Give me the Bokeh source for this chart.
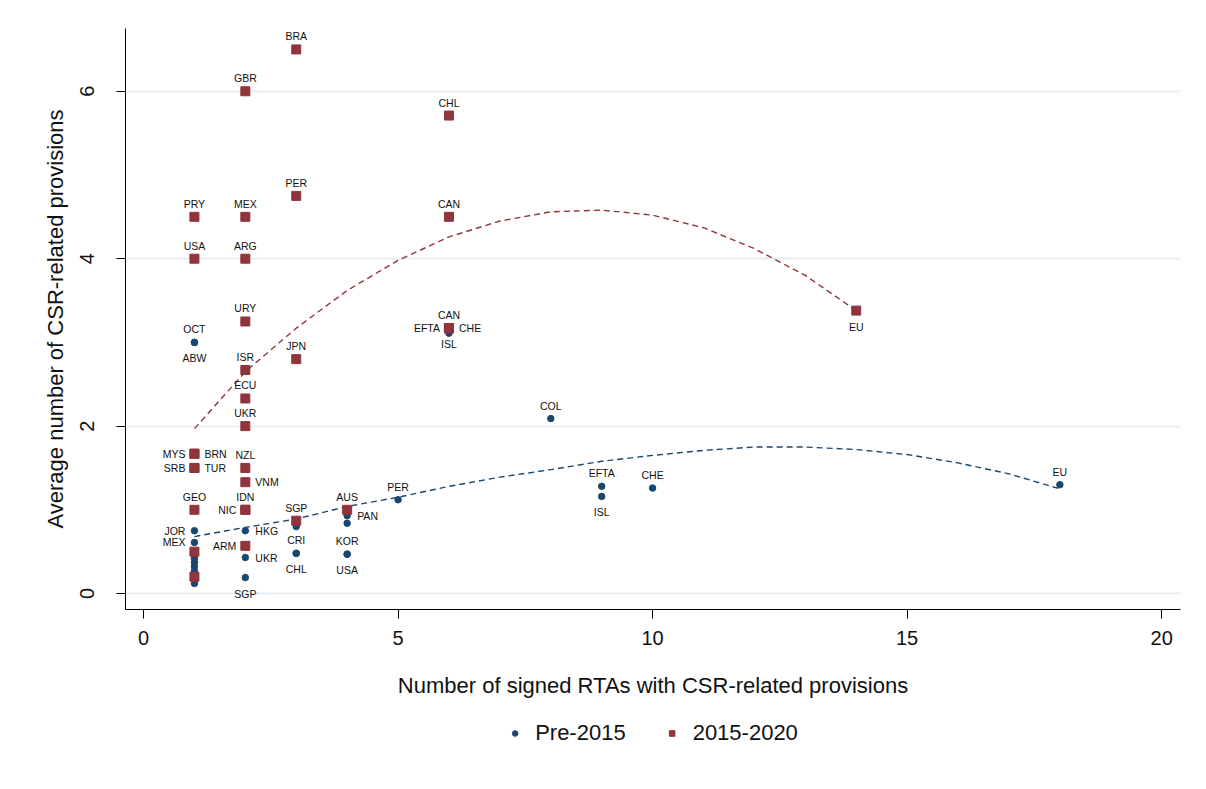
from bokeh.plotting import figure
from bokeh.layouts import column
from bokeh.models import ColumnDataSource, Legend, LegendItem, FixedTicker, Range1d
from bokeh.embed import file_html
from bokeh.resources import INLINE
from bokeh.core.properties import value

# ---------------- data ----------------
# Pre-2015 agreements
pre_x = [1, 1, 1, 1, 1, 1, 1, 1, 1, 1, 2, 2, 2, 3, 3, 3, 4, 4, 4, 4, 5, 6, 8, 9, 9, 10, 18]
pre_y = [3.0, 3.0, 0.75, 0.61, 0.42, 0.37, 0.32, 0.27, 0.22, 0.12,
         0.75, 0.43, 0.19, 0.80, 0.48, 0.48, 0.93, 0.84, 0.47, 0.47,
         1.12, 3.11, 2.09, 1.28, 1.16, 1.26, 1.30]
pre_lab = ["OCT", "ABW", "JOR", "MEX", "", "", "", "", "", "",
           "HKG", "UKR", "SGP", "", "CRI", "CHL", "PAN", "", "KOR", "USA",
           "PER", "", "COL", "EFTA", "ISL", "CHE", "EU"]
pre_pos = [12, 6, 9, 9, 0, 0, 0, 0, 0, 0,
           3, 3, 6, 0, 12, 6, 3, 0, 12, 6,
           12, 0, 12, 12, 6, 12, 12]

# 2015-2020 agreements
post_x = [1, 1, 1, 1, 1, 1, 1, 1, 1,
          2, 2, 2, 2, 2, 2, 2, 2, 2, 2, 2, 2,
          3, 3, 3, 3, 4, 6, 6, 6, 6, 6, 6, 14]
post_y = [4.5, 4.0, 1.67, 1.67, 1.5, 1.5, 1.0, 0.5, 0.2,
          6.0, 4.5, 4.0, 3.25, 2.67, 2.33, 2.0, 1.5, 1.33, 1.0, 1.0, 0.57,
          6.5, 4.75, 2.8, 0.87, 1.0, 5.71, 4.5, 3.17, 3.17, 3.17, 3.17, 3.38]
post_lab = ["PRY", "USA", "MYS", "BRN", "SRB", "TUR", "GEO", "", "",
            "GBR", "MEX", "ARG", "URY", "ISR", "ECU", "UKR", "NZL", "VNM", "IDN", "NIC", "ARM",
            "BRA", "PER", "JPN", "SGP", "AUS", "CHL", "CAN", "CAN", "EFTA", "CHE", "ISL", "EU"]
post_pos = [12, 12, 9, 3, 9, 3, 12, 0, 0,
            12, 12, 12, 12, 12, 12, 12, 12, 3, 12, 9, 9,
            12, 12, 12, 12, 12, 12, 12, 12, 9, 3, 6, 6]

# fitted curves
pre_fit_x = [1, 2, 3, 4, 5, 6, 7, 8, 9, 10, 11, 12, 13, 14, 15, 16, 17, 18]
pre_fit_y = [0.68, 0.79, 0.89, 1.04, 1.15, 1.28, 1.39, 1.48, 1.58, 1.65,
             1.71, 1.75, 1.75, 1.72, 1.66, 1.56, 1.43, 1.25]
post_fit_x = [1, 2, 3, 4, 5, 6, 7, 8, 9, 10, 11, 12, 13, 14]
post_fit_y = [1.97, 2.65, 3.17, 3.62, 3.98, 4.26, 4.45, 4.56, 4.58, 4.52,
              4.37, 4.12, 3.80, 3.38]

x_ticks = [0, 5, 10, 15, 20]
y_ticks = [0, 2, 4, 6]
series_names = ["Pre-2015", "2015-2020"]

# ---------------- style ----------------
BLUE = "#1a476f"
RED = "#90353b"
FONT = "Liberation Sans"
TXT = "#111111"


def label_layout(pos):
    if pos == 12:
        return 0, -13, "center"
    if pos == 6:
        return 0, 16, "center"
    if pos == 3:
        return 10, 0, "left"
    if pos == 9:
        return -9, 0, "right"
    return 0, 0, "center"


def label_source(xs, ys, labs, poss):
    d = dict(x=[], y=[], t=[], xo=[], yo=[], al=[])
    for x, y, t, ps in zip(xs, ys, labs, poss):
        if not t:
            continue
        xo, yo, al = label_layout(ps)
        d["x"].append(x); d["y"].append(y); d["t"].append(t)
        d["xo"].append(xo); d["yo"].append(yo); d["al"].append(al)
    return ColumnDataSource(d)


p = figure(frame_width=1055, frame_height=581, output_backend="svg",
           toolbar_location=None,
           x_range=Range1d(-0.354, 20.37), y_range=Range1d(-0.191, 6.75),
           min_border_left=125, min_border_right=18, min_border_top=28,
           min_border_bottom=100)
p.outline_line_color = None
p.background_fill_color = "white"
p.border_fill_color = "white"

p.xgrid.visible = False
p.ygrid.ticker = FixedTicker(ticks=y_ticks)
p.ygrid.grid_line_color = "#e6eef1"
p.ygrid.grid_line_width = 2

xa = p.xaxis[0]
xa.ticker = FixedTicker(ticks=x_ticks)
xa.axis_label = "Number of signed RTAs with CSR-related provisions"
ya = p.yaxis[0]
ya.ticker = FixedTicker(ticks=y_ticks)
ya.axis_label = "Average number of CSR-related provisions"
ya.major_label_orientation = "vertical"
for ax in (xa, ya):
    ax.axis_line_color = "black"
    ax.axis_line_width = 1
    ax.major_tick_line_color = "black"
    ax.major_tick_out = 9
    ax.major_tick_in = 0
    ax.minor_tick_line_color = None
    ax.major_label_text_font = FONT
    ax.major_label_text_font_size = "20px"
    ax.major_label_text_color = TXT
    ax.axis_label_text_font = FONT
    ax.axis_label_text_font_size = "22px"
    ax.axis_label_text_font_style = "normal"
    ax.axis_label_text_color = TXT
xa.major_label_standoff = 12
xa.axis_label_standoff = 25
ya.major_label_standoff = 22
ya.axis_label_standoff = 10

# fit lines
p.line(pre_fit_x, pre_fit_y, line_color=BLUE, line_width=1.4, line_dash="6 4")
p.line(post_fit_x, post_fit_y, line_color=RED, line_width=1.4, line_dash="6 4")

# points
p.scatter(pre_x, pre_y, marker="circle", size=6.5, fill_color=BLUE, line_color=BLUE)
p.scatter(post_x, post_y, marker="square", size=9, fill_color=RED, line_color=RED)

# labels
for xs, ys, labs, poss in ((pre_x, pre_y, pre_lab, pre_pos),
                           (post_x, post_y, post_lab, post_pos)):
    src = label_source(xs, ys, labs, poss)
    p.text(x="x", y="y", text="t", x_offset="xo", y_offset="yo", text_align="al",
           text_baseline="middle", source=src, text_font=value(FONT),
           text_font_size="10.5px", text_color=TXT)

# legend strip under the plot
pl = figure(frame_width=1055, frame_height=60, output_backend="svg",
            toolbar_location=None, x_range=Range1d(0, 1), y_range=Range1d(0, 1),
            min_border_left=120, min_border_right=23, min_border_top=0,
            min_border_bottom=0, x_axis_location=None, y_axis_location=None)
pl.outline_line_color = None
pl.xgrid.visible = False
pl.ygrid.visible = False
pl.border_fill_color = "white"
lr_pre = pl.scatter(pre_x, pre_y, marker="circle", size=6.5, fill_color=BLUE,
                    line_color=BLUE, visible=False)
lr_post = pl.scatter(post_x, post_y, marker="square", size=9, fill_color=RED,
                     line_color=RED, visible=False)
legend = Legend(items=[LegendItem(label=series_names[0], renderers=[lr_pre]),
                       LegendItem(label=series_names[1], renderers=[lr_post])],
                orientation="horizontal", location="top_center",
                label_text_font=FONT, label_text_font_size="22px",
                label_text_color=TXT, glyph_width=14, glyph_height=20,
                label_standoff=14, spacing=39, border_line_color=None,
                background_fill_alpha=0, margin=11, padding=6)
pl.add_layout(legend, "center")

layout = column(p, pl, spacing=0)
open("out.html", "w").write(file_html(layout, INLINE))
